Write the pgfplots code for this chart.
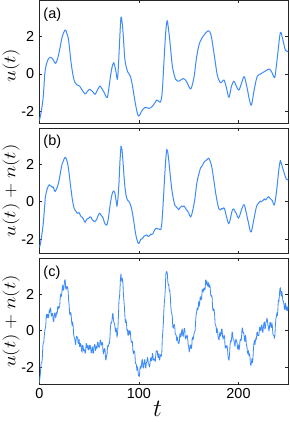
\documentclass[border=0pt]{standalone}
\usepackage{fontspec}
\setmainfont{Liberation Sans}
\usepackage{graphicx}
\usepackage{pgfplots}
\pgfplotsset{compat=1.18}
\definecolor{sig}{rgb}{0.24,0.54,0.98}
\pgfplotsset{
  panel/.style={
    scale only axis, width=249bp, anchor=south west,
    xmin=0, xmax=250, xtick={0,100,200},
    ytick={-2,0,2}, yticklabels={-2,0,2},
    tick align=inside, major tick length=3bp,
    axis line style={black!85, line width=0.7bp},
    every tick/.style={black!85, line width=0.7bp},
    tick label style={font=\fontsize{14.5}{14.5}\selectfont},
    yticklabel style={xshift=-1.5bp},
    every axis y label/.style={at={(axis description cs:-0.113,0.5)}, rotate=90, anchor=center},
    every axis x label/.style={at={(axis description cs:0.475,0)}, anchor=base, yshift=-32bp},
  },
}
\tikzset{lbl/.style={anchor=north west, inner sep=0pt, xshift=4bp, font=\fontsize{14.5}{14.5}\selectfont}}
\newcommand{\ylab}[1]{\fontsize{16}{16}\selectfont\scalebox{1.22}[1]{$#1$}}
\begin{document}
\begin{tikzpicture}
\path[use as bounding box] (0,0) rectangle (290bp,422bp);
% ---------------- (a)
\begin{axis}[panel, at={(39.3bp,298.7bp)}, height=122.8bp, ymin=-2.64, ymax=3.94,
  xticklabels={}, ylabel={\ylab{u(t)}},
  every axis y label/.append style={at={(axis description cs:-0.113,0.47)}}]
\addplot[sig, line width=1bp, smooth, line join=round] coordinates {
(0,-2.5) (2,-2.0) (4,-1.2) (5.5,0.0) (7,0.5) (9,0.8) (11.4,0.9) (13.5,0.8) (16.4,0.57)
(18.5,0.85) (20.4,1.29) (23,2.0) (26,2.36) (27.5,2.2) (29.4,1.82) (32,0.57) (34,-0.1)
(35.5,-0.41) (38,-0.59) (40.4,-0.64) (43,-0.86) (46,-1.07) (48,-0.95) (50.4,-0.82)
(53.7,-0.95) (56,-1.09) (58.5,-0.85) (61,-0.64) (63,-0.8) (64.7,-0.95) (68,-1.27)
(69.5,-0.9) (71.4,-0.14) (73,0.35) (74.7,0.61) (76.7,0.21) (78.4,-0.29) (79.5,0.5)
(80.5,1.6) (82,3.04) (83.5,2.6) (84.5,1.9) (86,0.75) (88.7,0.12) (91.4,-0.11)
(93.7,-0.68) (96.4,-1.57) (99.4,-2.25) (102.7,-2.0) (106,-1.79) (110.4,-1.84)
(113.7,-1.72) (116,-1.55) (118,-1.39) (120.7,-1.5) (122,-1.45) (123.5,-0.9)
(125.4,0.9) (127,2.3) (128.4,2.86) (129.5,2.5) (131,1.82) (133.7,0.39) (137,-0.29)
(140.4,-0.38) (144.4,-0.24) (147.7,-0.39) (152,-0.80) (155.4,-0.14) (158,0.93)
(161,1.68) (165.4,2.09) (169.7,2.32) (172.4,2.09) (175.4,1.11) (178.7,-0.05)
(182,-0.47) (185.4,-0.32) (188,-0.77) (190.4,-1.25) (193,-0.64) (195.4,-0.38)
(197.7,-0.64) (200.4,-0.86) (203,-0.5) (205.7,-0.14) (208.4,-0.68) (211,-1.39)
(213,-1.66) (215.7,-0.86) (218.7,-0.14) (222,0.0) (227,0.16) (231,0.27) (233.7,0.07)
(236.4,-0.18) (238.7,0.75) (242,2.21) (244.4,1.86) (247,1.29) (250,1.2)
};
\node[lbl, yshift=-7bp] at (rel axis cs:0,1) {(a)};
\end{axis}
% ---------------- (b)
\begin{axis}[panel, at={(39.3bp,168.3bp)}, height=125.7bp, ymin=-2.79, ymax=3.97,
  xticklabels={}, ylabel={\ylab{u(t)+n(t)}}]
\addplot[sig, line width=1bp, line join=round] coordinates {
(0,-2.45) (1,-2.3) (2,-1.95) (3,-1.6) (4,-1.15) (5,-0.5) (6,0.22) (7,0.5) (8,0.7) (9,0.84) (10,0.92)
(11,0.86) (12,0.85) (13,0.78) (14,0.8) (15,0.64) (16,0.55) (17,0.66) (18,0.78) (19,0.96) (20,1.18) (21,1.5) (22,1.8) (23,2.05) (24,2.17) (25,2.32) (26,2.4)
(27,2.34) (28,2.15) (29,1.9) (30,1.5) (31,1.02) (32,0.6) (33,0.18) (34,-0.12) (35,-0.35) (36,-0.45) (37,-0.52) (38,-0.62) (39,-0.6) (40,-0.58) (41,-0.7) (42,-0.8)
(43,-0.82) (44,-0.9) (45,-1.02) (46,-1.1) (47,-1.0) (48,-0.92) (49,-0.9) (50,-0.86) (51,-0.8) (52,-0.84) (53,-0.95) (54,-1.0) (55,-1.06) (56,-1.05) (57,-1.0) (58,-0.9)
(59,-0.75) (60,-0.64) (61,-0.62) (62,-0.72) (63,-0.78) (64,-0.86) (65,-1.05) (66,-1.18) (67,-1.25) (68,-1.24) (69,-1.0) (70,-0.63) (71,-0.2) (72,0.12)
(73,0.4) (74,0.55) (75,0.58) (76,0.45) (77,0.1) (78,-0.25) (79,0.2) (80,1.0) (81,2.2) (82,3.0) (83,2.82) (84,2.2)
(85,1.4) (86,0.78) (87,0.38) (88,0.16) (89,0.06) (90,0.02) (91,-0.08) (92,-0.24) (93,-0.45) (94,-0.75) (95,-1.1) (96,-1.48) (97,-1.8) (98,-2.02)
(99,-2.2) (100,-2.25) (101,-2.12) (102,-2.0) (103,-2.0) (104,-1.95) (105,-1.86) (106,-1.82) (107,-1.8) (108,-1.78) (109,-1.84) (110,-1.86)
(111,-1.8) (112,-1.74) (113,-1.75) (114,-1.72) (115,-1.6) (116,-1.5) (117,-1.44) (118,-1.42) (119,-1.46) (120,-1.45) (121,-1.5) (122,-1.5)
(123,-1.18) (124,-0.42) (125,0.52) (126,1.48) (127,2.32) (128,2.82) (129,2.68)
(130,2.22) (131,1.7) (132,1.15) (133,0.68) (134,0.33) (135,0.05) (136,-0.18) (137,-0.24) (138,-0.3) (139,-0.36) (140,-0.42) (141,-0.34) (142,-0.28)
(143,-0.22) (144,-0.26) (145,-0.22) (146,-0.27) (147,-0.36) (148,-0.45) (149,-0.5) (150,-0.6) (151,-0.74) (152,-0.82) (153,-0.7) (154,-0.47) (155,-0.22) (156,0.08)
(157,0.5) (158,0.95) (159,1.25) (160,1.45) (161,1.66) (162,1.83) (163,1.9) (164,1.98) (165,2.1) (166,2.18) (167,2.2) (168,2.25) (169,2.3) (170,2.35)
(171,2.26) (172,2.12) (173,1.92) (174,1.63) (175,1.25) (176,0.87) (177,0.5) (178,0.18) (179,-0.1) (180,-0.33) (181,-0.42) (182,-0.44) (183,-0.36) (184,-0.38)
(185,-0.32) (186,-0.37) (187,-0.6) (188,-0.8) (189,-1.02) (190,-1.18) (191,-1.1) (192,-0.88) (193,-0.6) (194,-0.42) (195,-0.38) (196,-0.45) (197,-0.56) (198,-0.65)
(199,-0.8) (200,-0.88) (201,-0.78) (202,-0.6) (203,-0.42) (204,-0.28) (205,-0.16) (206,-0.17) (207,-0.4) (208,-0.63) (209,-0.9) (210,-1.12) (211,-1.4) (212,-1.62)
(213,-1.6) (214,-1.36) (215,-1.05) (216,-0.8) (217,-0.5) (218,-0.27) (219,-0.14) (220,-0.08) (221,-0.02) (222,0.04) (223,0.0) (224,0.05) (225,0.1) (226,0.16)
(227,0.1) (228,0.15) (229,0.22) (230,0.28) (231,0.24) (232,0.17) (233,0.12) (234,0.06) (235,-0.1) (236,-0.18) (237,0.1) (238,0.47) (239,0.95) (240,1.48)
(241,1.95) (242,2.23) (243,2.08) (244,1.88) (245,1.7) (246,1.53) (247,1.35) (248,1.22) (249,1.18) (250,1.22)
};
\node[lbl, yshift=-7bp] at (rel axis cs:0,1) {(b)};
\end{axis}
% ---------------- (c)
\begin{axis}[panel, at={(39.3bp,37.3bp)}, height=126.7bp, ymin=-2.94, ymax=3.96,
  xticklabels={0,100,200}, ylabel={\ylab{u(t)+n(t)}},
  xlabel={\fontsize{24}{24}\selectfont$t$}]
\addplot[sig, line width=0.8bp, line join=round] coordinates {
(0,-2.85)(0.5,-2.6)(1,-2.42)(1.5,-1.94)(2,-1.75)(2.5,-1.74)(3,-1.52)(3.5,-0.87)(4,-0.65)(4.5,-0.62)
(5,-0.28)(5.5,0.0)(6,0.12)(6.5,0.27)(7,0.85)(7.5,0.9)(8,0.72)(8.5,0.89)(9,0.7)(9.5,0.79)
(10,1.12)(10.5,0.99)(11,1.25)(11.5,1.2)(12,0.85)(12.5,0.79)(13,0.93)(13.5,0.94)(14,0.5)(14.5,0.5)
(15,0.8)(15.5,0.97)(16,0.97)(16.5,0.69)(17,0.85)(17.5,1.02)(18,0.94)(18.5,1.32)(19,1.33)(19.5,1.18)
(20,1.27)(20.5,1.35)(21,1.82)(21.5,1.99)(22,1.85)(22.5,1.99)(23,2.32)(23.5,2.48)(24,2.2)(24.5,2.22)
(25,2.53)(25.5,2.74)(26,2.78)(26.5,2.3)(27,2.25)(27.5,2.41)(28,2.33)(28.5,2.4)(29,2.1)(29.5,1.62)
(30,1.38)(30.5,0.92)(31,0.85)(31.5,1.0)(32,0.85)(32.5,0.46)(33,0.27)(33.5,0.48)(34,0.25)(34.5,-0.2)
(35,-0.35)(35.5,-0.41)(36,-0.62)(36.5,-0.76)(37,-0.45)(37.5,-0.3)(38,-0.39)(38.5,-0.36)(39,-0.68)(39.5,-0.7)
(40,-0.47)(40.5,-0.87)(41,-0.87)(41.5,-0.69)(42,-0.8)(42.5,-1.09)(43,-1.17)(43.5,-0.79)(44,-0.85)(44.5,-1.09)
(45,-1.03)(45.5,-1.05)(46,-1.23)(46.5,-1.19)(47,-0.7)(47.5,-0.7)(48,-0.93)(48.5,-0.81)(49,-1.05)(49.5,-1.04)
(50,-0.78)(50.5,-0.99)(51,-0.8)(51.5,-0.85)(52,-1.2)(52.5,-1.19)(53,-0.97)(53.5,-0.88)(54,-1.23)(54.5,-1.21)
(55,-0.88)(55.5,-0.75)(56,-0.78)(56.5,-1.09)(57,-0.95)(57.5,-0.84)(58,-0.96)(58.5,-0.62)(59,-0.64)(59.5,-0.87)
(60,-0.85)(60.5,-0.9)(61,-0.55)(61.5,-0.5)(62,-0.75)(62.5,-0.79)(63,-0.63)(63.5,-0.67)(64,-1.15)(64.5,-1.26)
(65,-1.07)(65.5,-0.97)(66,-1.02)(66.5,-1.53)(67,-1.6)(67.5,-1.34)(68,-1.32)(68.5,-0.88)(69,-0.8)(69.5,-0.86)
(70,-0.67)(70.5,-0.69)(71,-0.3)(71.5,0.23)(72,0.45)(72.5,0.41)(73,0.57)(73.5,0.9)(74,0.95)(74.5,0.55)
(75,0.45)(75.5,0.4)(76,0.18)(76.5,-0.05)(77,0.15)(77.5,0.02)(78,-0.35)(78.5,-0.2)(79,0.22)(79.5,0.83)
(80,1.68)(80.5,1.78)(81,2.28)(81.5,2.84)(82,3.1)(82.5,2.79)(83,2.68)(83.5,2.84)(84,2.55)(84.5,1.94)
(85,1.62)(85.5,1.25)(86,0.72)(86.5,0.44)(87,0.6)(87.5,0.43)(88,0.02)(88.5,0.07)(89,-0.25)(89.5,-0.24)
(90,0.02)(90.5,-0.19)(91,0.0)(91.5,-0.1)(92,-0.5)(92.5,-0.64)(93,-0.57)(93.5,-0.62)(94,-1.1)(94.5,-1.25)
(95,-1.1)(95.5,-1.11)(96,-1.28)(96.5,-1.76)(97,-1.8)(97.5,-1.86)(98,-2.16)(98.5,-1.96)(99,-2.12)(99.5,-2.42)
(100,-2.48)(100.5,-2.48)(101,-2.08)(101.5,-1.92)(102,-2.05)(102.5,-1.94)(103,-1.63)(103.5,-1.57)(104,-1.95)(104.5,-2.04)
(105,-1.82)(105.5,-1.62)(106,-1.57)(106.5,-2.02)(107,-2.03)(107.5,-1.75)(108,-1.7)(108.5,-1.45)(109,-1.55)(109.5,-1.81)
(110,-1.82)(110.5,-1.98)(111,-1.88)(111.5,-1.53)(112,-1.47)(112.5,-1.64)(113,-1.61)(113.5,-1.24)(114,-1.3)(114.5,-1.6)
(115,-1.6)(115.5,-1.53)(116,-1.62)(116.5,-1.67)(117,-1.27)(117.5,-1.09)(118,-1.14)(118.5,-1.1)(119,-1.43)(119.5,-1.46)
(120,-1.24)(120.5,-1.6)(121,-1.57)(121.5,-1.31)(122,-1.35)(122.5,-1.39)(123,-1.22)(123.5,-0.42)(124,-0.05)(124.5,0.34)
(125,1.02)(125.5,1.5)(126,1.82)(126.5,2.22)(127,3.05)(127.5,3.2)(128,3.22)(128.5,3.14)(129,2.7)(129.5,2.49)
(130,2.52)(130.5,2.16)(131,2.2)(131.5,1.93)(132,1.35)(132.5,1.04)(133,0.93)(133.5,0.81)(134,0.25)(134.5,0.13)
(135,0.3)(135.5,0.34)(136,0.22)(136.5,-0.21)(137,-0.2)(137.5,-0.26)(138,-0.56)(138.5,-0.34)(139,-0.47)(139.5,-0.7)
(140,-0.68)(140.5,-0.66)(141,-0.23)(141.5,-0.14)(142,-0.35)(142.5,-0.27)(143,0.02)(143.5,0.1)(144,-0.25)(144.5,-0.31)
(145,-0.07)(145.5,0.11)(146,0.13)(146.5,-0.38)(147,-0.45)(147.5,-0.29)(148,-0.37)(148.5,-0.23)(149,-0.45)(149.5,-0.78)
(150,-0.87)(150.5,-1.16)(151,-1.05)(151.5,-0.78)(152,-0.8)(152.5,-0.97)(153,-0.93)(153.5,-0.42)(154,-0.35)(154.5,-0.48)
(155,-0.3)(155.5,-0.11)(156,-0.07)(156.5,0.02)(157,0.55)(157.5,0.9)(158,1.01)(158.5,1.25)(159,1.12)(159.5,1.23)
(160,1.58)(160.5,1.33)(161,1.48)(161.5,1.82)(162,1.85)(162.5,1.69)(163,1.73)(163.5,2.21)(164,2.25)(164.5,2.11)
(165,2.27)(165.5,2.33)(166,2.22)(166.5,2.27)(167,2.75)(167.5,2.76)(168,2.52)(168.5,2.67)(169,2.45)(169.5,2.42)
(170,2.62)(170.5,2.36)(171,2.5)(171.5,2.4)(172,2.0)(172.5,1.87)(173,1.93)(173.5,1.81)(174,1.25)(174.5,1.08)
(175,1.2)(175.5,1.14)(176,0.92)(176.5,0.39)(177,0.3)(177.5,0.22)(178,-0.11)(178.5,0.12)(179,-0.02)(179.5,-0.35)
(180,-0.43)(180.5,-0.51)(181,-0.18)(181.5,-0.09)(182,-0.3)(182.5,-0.22)(183,0.07)(183.5,0.1)(184,-0.3)(184.5,-0.46)
(185,-0.32)(185.5,-0.24)(186,-0.32)(186.5,-0.86)(187,-0.95)(187.5,-0.82)(188,-0.92)(188.5,-0.81)(189,-1.05)(189.5,-1.41)
(190,-1.52)(190.5,-1.61)(191,-1.3)(191.5,-0.78)(192,-0.55)(192.5,-0.62)(193,-0.48)(193.5,-0.07)(194,-0.1)(194.5,-0.45)
(195,-0.5)(195.5,-0.53)(196,-0.72)(196.5,-0.86)(197,-0.55)(197.5,-0.45)(198,-0.59)(198.5,-0.61)(199,-0.98)(199.5,-1.0)
(200,-0.77)(200.5,-1.05)(201,-0.92)(201.5,-0.54)(202,-0.45)(202.5,-0.54)(203,-0.42)(203.5,0.09)(204,0.15)(204.5,-0.12)
(205,-0.08)(205.5,-0.2)(206,-0.48)(206.5,-0.59)(207,-0.25)(207.5,-0.42)(208,-0.83)(208.5,-0.84)(209,-1.2)(209.5,-1.26)
(210,-1.08)(210.5,-1.37)(211,-1.25)(211.5,-1.4)(212,-1.85)(212.5,-1.89)(213,-1.72)(213.5,-1.52)(214,-1.75)(214.5,-1.53)
(215,-1.0)(215.5,-0.69)(216,-0.53)(216.5,-0.76)(217,-0.55)(217.5,-0.39)(218,-0.46)(218.5,-0.09)(219,-0.07)(219.5,-0.27)
(220,-0.23)(220.5,-0.26)(221,0.12)(221.5,0.21)(222,0.0)(222.5,0.04)(223,0.27)(223.5,0.33)(224,-0.05)(224.5,-0.09)
(225,0.18)(225.5,0.41)(226,0.48)(226.5,0.1)(227,0.15)(227.5,0.45)(228,0.5)(228.5,0.68)(229,0.6)(229.5,0.3)
(230,0.23)(230.5,-0.02)(231,0.13)(231.5,0.44)(232,0.45)(232.5,0.21)(233,0.17)(233.5,0.43)(234,0.25)(234.5,-0.15)
(235,-0.25)(235.5,-0.26)(236,-0.42)(236.5,-0.31)(237,0.25)(237.5,0.63)(238,0.76)(238.5,0.97)(239,0.82)(239.5,1.13)
(240,1.68)(240.5,1.58)(241,1.88)(241.5,2.27)(242,2.35)(242.5,2.02)(243,1.88)(243.5,2.14)(244,1.95)(244.5,1.64)
(245,1.62)(245.5,1.5)(246,1.22)(246.5,1.14)(247,1.5)(247.5,1.43)(248,1.12)(248.5,1.29)(249,1.1)(249.5,1.14)
(250,1.42)
};
\node[lbl, yshift=-8bp] at (rel axis cs:0,1) {(c)};
\end{axis}
\end{tikzpicture}
\end{document}
